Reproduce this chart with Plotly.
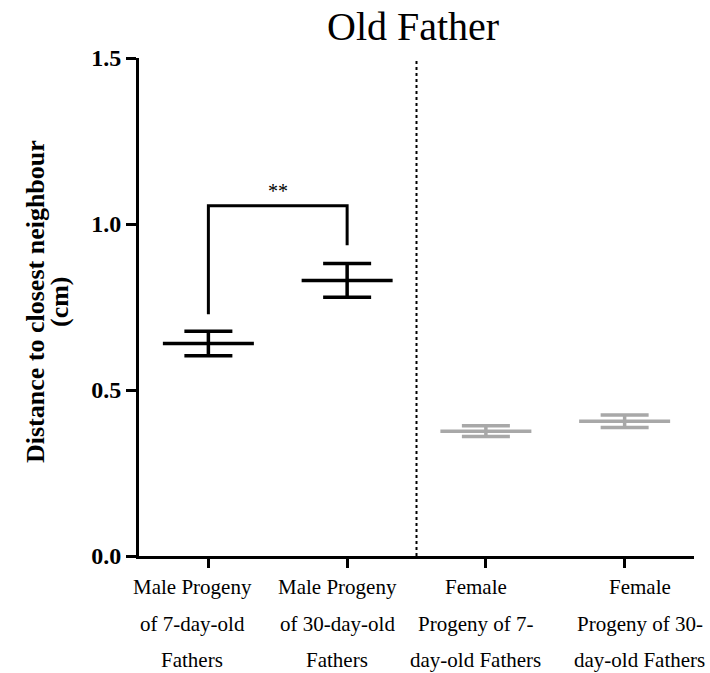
import plotly.graph_objects as go

# Group labels (each entry is one line of the x tick label)
label_lines = [
    ["Male Progeny", "of 7-day-old", "Fathers"],
    ["Male Progeny", "of 30-day-old", "Fathers"],
    ["Female", "Progeny of 7-", "day-old Fathers"],
    ["Female", "Progeny of 30-", "day-old Fathers"],
]
positions = [0, 1, 2, 3]

# Mean distance to closest neighbour (cm) and SEM
male_means = [0.640, 0.830]
male_sem = [0.037, 0.051]
female_means = [0.376, 0.406]
female_sem = [0.016, 0.019]

# Significance bracket between the two male groups
bracket_x = [0, 0, 1, 1]
bracket_y = [0.728, 1.055, 1.055, 0.936]
bracket_label = "**"

y_ticks = [0.0, 0.5, 1.0, 1.5]
y_title_lines = ["Distance to closest neighbour", "(cm)"]

SERIF = "Times New Roman, Liberation Serif, serif"
BLACK = "#000000"
GREY = "#a8a8a8"

fig = go.Figure()


def add_group(xs, means, sems, color):
    # line-ew markers are drawn 1.4x the nominal size, so 65 gives ~91 px
    fig.add_trace(go.Scatter(
        x=xs, y=means, mode="markers",
        marker=dict(symbol="line-ew", size=65, color=color,
                    line=dict(color=color, width=3.5)),
        error_y=dict(type="data", array=sems, visible=True,
                     color=color, thickness=3.5, width=24),
        showlegend=False, hoverinfo="skip",
    ))


add_group(positions[:2], male_means, male_sem, BLACK)
add_group(positions[2:], female_means, female_sem, GREY)

fig.add_trace(go.Scatter(
    x=bracket_x, y=bracket_y, mode="lines",
    line=dict(color=BLACK, width=3),
    showlegend=False, hoverinfo="skip",
))
fig.add_annotation(
    x=0.5, y=bracket_y[1], xref="x", yref="y", text=bracket_label,
    showarrow=False, yanchor="bottom", yshift=2,
    font=dict(family=SERIF, size=20, color=BLACK),
)

# Dotted divider between male and female groups
fig.add_shape(
    type="line", xref="x", yref="y", x0=1.5, x1=1.5, y0=0, y1=1.5,
    line=dict(color=BLACK, width=2, dash="dot"),
)

# Multi-line category labels under the x axis (each block nudged sideways)
label_nudge = [-16, -10, -10, 15]
for pos, lines, dx in zip(positions, label_lines, label_nudge):
    for i, line in enumerate(lines):
        fig.add_annotation(
            x=pos, xref="x", y=0, yref="paper", text=line,
            showarrow=False, yanchor="middle",
            xshift=dx, yshift=-31 - 36.5 * i,
            font=dict(family=SERIF, size=21, color=BLACK),
        )

# Rotated two-line y-axis title, one annotation per line
for line, dx in zip(y_title_lines, [-104, -80]):
    fig.add_annotation(
        x=0, xref="paper", y=0.5, yref="paper", text=f"<b>{line}</b>",
        textangle=-90, showarrow=False, xanchor="center",
        xshift=dx, yshift=5,
        font=dict(family=SERIF, size=26, color=BLACK),
    )

fig.add_annotation(
    x=0.5, xref="paper", y=1, yref="paper", text="Old Father",
    showarrow=False, yanchor="middle", xshift=-4, yshift=32,
    font=dict(family=SERIF, size=40, color=BLACK),
)

fig.update_xaxes(
    range=[-0.5, 3.5], tickvals=positions, ticktext=["", "", "", ""],
    showgrid=False, zeroline=False, showline=True, linecolor=BLACK,
    linewidth=3, ticks="outside", ticklen=9, tickwidth=3, tickcolor=BLACK,
)
fig.update_yaxes(
    range=[0, 1.5], tickvals=y_ticks, ticktext=[f"{v:.1f}" for v in y_ticks],
    showgrid=False, zeroline=False, showline=True, linecolor=BLACK,
    linewidth=3, ticks="outside", ticklen=10, tickwidth=3, tickcolor=BLACK,
    tickfont=dict(family=SERIF, size=24, color=BLACK, weight="bold"),
)

fig.update_layout(
    width=710, height=673,
    margin=dict(l=139, r=16, t=58, b=117),
    plot_bgcolor="white", paper_bgcolor="white",
    font=dict(family=SERIF, color=BLACK),
)

fig.write_html("out.html")
